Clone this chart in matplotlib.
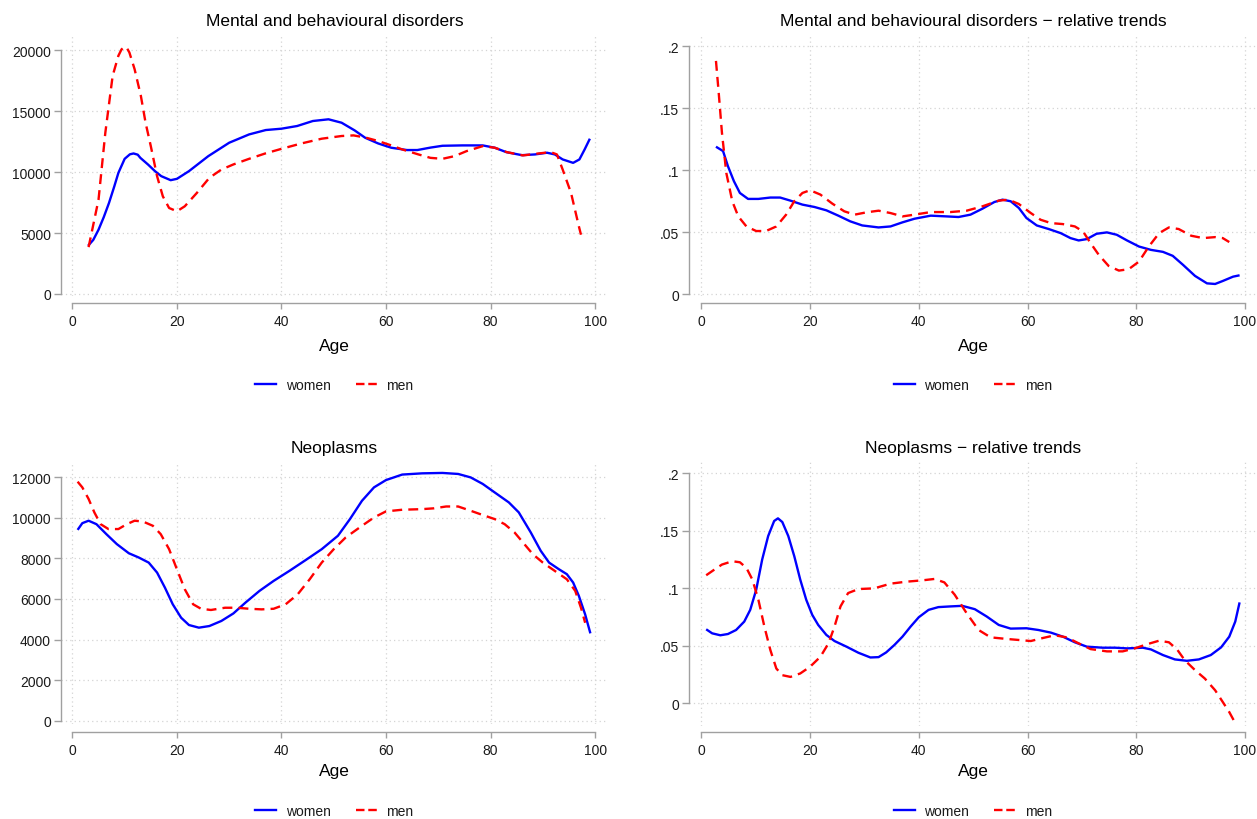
import matplotlib
matplotlib.use('Agg')
import matplotlib.pyplot as plt
from matplotlib.lines import Line2D

plt.rcParams['font.family'] = ['Liberation Sans', 'DejaVu Sans']

# ---------------- data ----------------
titles = ["Mental and behavioural disorders",
          "Mental and behavioural disorders \u2212 relative trends",
          "Neoplasms",
          "Neoplasms \u2212 relative trends"]
series_labels = ["women", "men"]
x_label = "Age"
x_ticks = [0, 20, 40, 60, 80, 100]

mb_y_ticks = [0, 5000, 10000, 15000, 20000]
mb_y_ticklabels = ["0", "5000", "10000", "15000", "20000"]
rel_y_ticks = [0, 0.05, 0.1, 0.15, 0.2]
rel_y_ticklabels = ["0", ".05", ".1", ".15", ".2"]
neo_y_ticks = [0, 2000, 4000, 6000, 8000, 10000, 12000]
neo_y_ticklabels = ["0", "2000", "4000", "6000", "8000", "10000", "12000"]

# Mental and behavioural disorders - counts
mb_women_age = [3, 4, 5, 6, 7, 8, 8.8, 10, 11, 11.7, 12.5, 13, 14.5, 15.8, 17, 18.8, 20, 22.3, 26,
                30, 33.8, 37, 40, 43, 46, 49, 51.5, 54, 56, 58.5, 61, 64, 66, 68.5, 70.8, 74.6,
                78.5, 80.8, 83, 86, 88.5, 90.8, 92.3, 93.8, 95.8, 97, 98, 99]
mb_women_val = [3950, 4440, 5270, 6300, 7460, 8800, 9930, 11080, 11450, 11520, 11420, 11160, 10600,
                10070, 9660, 9330, 9440, 10070, 11300, 12400, 13080, 13440, 13550, 13770, 14180,
                14320, 14040, 13410, 12810, 12340, 11990, 11800, 11800, 12000, 12150, 12180, 12180,
                11990, 11630, 11380, 11440, 11580, 11440, 11030, 10750, 11030, 11850, 12730]
mb_men_age = [3.1, 5.0, 6.3, 7.7, 8.8, 9.4, 10.0, 10.4, 10.9, 11.9, 13.1, 14.0, 15.0, 16.2, 17.3,
              18.5, 20.0, 21.5, 23.8, 26.2, 28.5, 30.8, 33.8, 36.9, 40, 43.8, 47.7, 51.5, 53.8,
              56.2, 58.5, 60.8, 63.1, 66.2, 68.5, 70.8, 73.1, 75.4, 78.5, 80.8, 83.1, 86.2, 89.2,
              91.5, 92.7, 93.8, 95.4, 96.9, 97.3]
mb_men_val = [3840, 7735, 13220, 17880, 19530, 20050, 20270, 20180, 19800, 18430, 16240, 14040,
              12120, 9660, 8010, 7050, 6780, 7190, 8280, 9520, 10200, 10620, 11080, 11520, 11900,
              12340, 12730, 12950, 13000, 12810, 12540, 12210, 11850, 11440, 11160, 11080, 11300,
              11710, 12120, 11990, 11630, 11360, 11520, 11630, 11440, 10200, 8280, 5540, 4860]

# Mental and behavioural disorders - relative trends
mbr_women_age = [2.7, 4.0, 4.9, 6.0, 7.1, 8.6, 10.5, 12.7, 14.5, 16.4, 18.6, 20.8, 23.0, 25.2, 27.4,
                 29.6, 32.6, 34.8, 37.0, 39.2, 42.2, 45.1, 47.3, 49.5, 51.7, 53.9, 55.4, 56.9, 58.4,
                 59.8, 61.7, 63.9, 66.1, 67.9, 69.4, 70.9, 72.7, 74.6, 76.4, 78.3, 80.5, 82.7, 84.9,
                 86.7, 88.6, 90.8, 93.0, 94.5, 95.9, 97.8, 99.0]
mbr_women_val = [0.1188, 0.1153, 0.1031, 0.0910, 0.0815, 0.0767, 0.0767, 0.0778, 0.0778, 0.0753,
                 0.0721, 0.0702, 0.0675, 0.0632, 0.0586, 0.0553, 0.0537, 0.0545, 0.0578, 0.0607,
                 0.0632, 0.0626, 0.0621, 0.0640, 0.0688, 0.0742, 0.0761, 0.0748, 0.0694, 0.0613,
                 0.0553, 0.0524, 0.0491, 0.0451, 0.0432, 0.0443, 0.0486, 0.0497, 0.0478, 0.0432,
                 0.0383, 0.0356, 0.0340, 0.0308, 0.0235, 0.0146, 0.0086, 0.0081, 0.0105, 0.0140,
                 0.0151]
mbr_men_age = [2.7, 3.2, 3.8, 4.6, 5.7, 6.8, 8.3, 10.1, 11.9, 13.8, 15.6, 17.1, 18.6, 20.0, 21.9,
               24.1, 26.3, 28.2, 30.4, 32.6, 34.8, 37.0, 39.2, 42.2, 45.8, 48.8, 51.7, 54.7, 56.5,
               58.4, 60.6, 62.4, 64.3, 66.5, 68.7, 70.2, 71.6, 73.1, 74.9, 76.8, 78.6, 80.5, 82.3,
               84.2, 86.0, 87.8, 90.1, 92.3, 94.5, 95.9, 97.1]
mbr_men_val = [0.188, 0.1625, 0.130, 0.0977, 0.0748, 0.0626, 0.0545, 0.0508, 0.0508, 0.0545, 0.0640,
               0.0748, 0.0815, 0.0837, 0.0802, 0.0729, 0.0667, 0.0640, 0.0659, 0.0672, 0.0653,
               0.0626, 0.0640, 0.0661, 0.0661, 0.0672, 0.0707, 0.0753, 0.0761, 0.0726, 0.0653,
               0.0599, 0.0572, 0.0564, 0.0545, 0.0505, 0.0410, 0.0316, 0.0227, 0.0189, 0.0200,
               0.0262, 0.0383, 0.0491, 0.0537, 0.0524, 0.0470, 0.0451, 0.0459, 0.0451, 0.0419]

# Neoplasms - counts
neo_women_age = [1.0, 1.9, 3.1, 4.6, 6.5, 8.5, 10.8, 12.7, 14.6, 16.2, 17.7, 19.2, 20.8, 22.3, 24.2,
                 26.2, 28.5, 30.8, 33.1, 35.8, 38.5, 41.5, 44.6, 47.7, 50.8, 53.1, 55.4, 57.7, 60.0,
                 63.1, 66.9, 70.8, 73.8, 76.2, 78.5, 80.8, 83.5, 85.4, 87.7, 89.6, 91.2, 93.1, 94.6,
                 95.8, 96.9, 98.1, 99.1]
neo_women_val = [9400, 9730, 9850, 9680, 9190, 8700, 8250, 8040, 7790, 7300, 6560, 5740, 5080, 4720,
                 4590, 4670, 4920, 5290, 5820, 6400, 6890, 7380, 7910, 8450, 9110, 9930, 10830,
                 11490, 11850, 12120, 12180, 12200, 12150, 11980, 11660, 11240, 10750, 10260, 9270,
                 8370, 7790, 7460, 7220, 6810, 6150, 5240, 4310]
neo_men_age = [1.0, 1.9, 3.1, 4.2, 5.4, 6.9, 8.8, 10.4, 11.9, 13.5, 15.4, 16.9, 18.5, 20.0, 21.5,
               23.1, 24.6, 26.5, 29.2, 31.5, 33.8, 36.2, 38.5, 40.8, 43.1, 45.4, 47.7, 50.0, 52.3,
               55.4, 57.7, 60.0, 63.1, 66.9, 69.2, 71.5, 73.8, 76.2, 78.5, 80.8, 82.7, 84.6, 86.2,
               88.1, 90.0, 92.3, 94.6, 96.2, 97.3, 98.1]
neo_men_val = [11770, 11490, 10920, 10260, 9680, 9440, 9440, 9680, 9850, 9810, 9600, 9190, 8450,
               7460, 6480, 5740, 5520, 5460, 5570, 5570, 5520, 5490, 5520, 5740, 6230, 6970, 7790,
               8450, 9030, 9600, 10010, 10310, 10390, 10420, 10460, 10550, 10550, 10340, 10130,
               9930, 9680, 9270, 8780, 8200, 7790, 7380, 6970, 6400, 5570, 4830]

# Neoplasms - relative trends
neor_women_age = [0.9, 2.0, 3.5, 4.9, 6.4, 7.9, 9.0, 10.1, 11.2, 12.3, 13.4, 14.1, 14.9, 16.0, 17.1,
                  18.2, 19.3, 20.4, 21.5, 23.0, 24.5, 26.7, 28.9, 31.1, 32.6, 34.0, 35.5, 37.0,
                  38.5, 40.0, 41.8, 43.6, 45.8, 48.0, 50.3, 52.5, 54.7, 56.9, 59.8, 62.0, 64.3,
                  66.5, 68.7, 70.9, 73.8, 76.1, 78.3, 81.2, 82.7, 84.9, 87.1, 89.3, 91.5, 93.7,
                  95.6, 97.1, 98.2, 99.0]
neor_women_val = [0.0641, 0.0606, 0.0589, 0.0600, 0.0635, 0.0708, 0.0810, 0.0985, 0.1248, 0.1452,
                  0.1583, 0.1606, 0.1574, 0.1452, 0.1277, 0.1073, 0.0898, 0.0767, 0.0679, 0.0592,
                  0.0539, 0.0490, 0.0437, 0.0396, 0.0399, 0.0440, 0.0504, 0.0577, 0.0665, 0.0746,
                  0.0810, 0.0834, 0.0840, 0.0845, 0.0816, 0.0752, 0.0679, 0.0647, 0.0650, 0.0635,
                  0.0612, 0.0577, 0.0528, 0.0490, 0.0481, 0.0481, 0.0475, 0.0481, 0.0466, 0.0417,
                  0.0379, 0.0367, 0.0379, 0.0417, 0.0484, 0.0577, 0.0708, 0.0875]
neor_men_age = [0.9, 2.4, 3.8, 5.7, 7.1, 8.3, 9.4, 10.5, 11.6, 12.7, 13.8, 14.9, 16.4, 18.2, 20.0,
                21.9, 23.4, 24.5, 25.6, 27.0, 28.9, 31.8, 34.8, 37.7, 40.7, 42.9, 44.7, 46.6, 48.8,
                51.0, 53.2, 56.2, 58.4, 60.6, 62.8, 65.0, 67.2, 69.4, 71.6, 74.6, 77.5, 79.7, 81.9,
                84.2, 86.0, 87.5, 88.9, 90.8, 92.6, 94.5, 95.9, 97.1, 98.0]
neor_men_val = [0.1111, 0.1160, 0.1204, 0.1233, 0.1224, 0.1175, 0.1073, 0.0898, 0.0665, 0.0461,
                0.0300, 0.0242, 0.0227, 0.0257, 0.0315, 0.0402, 0.0519, 0.0665, 0.0840, 0.0956,
                0.0991, 0.0997, 0.1038, 0.1055, 0.1067, 0.1079, 0.1049, 0.0942, 0.0781, 0.0635,
                0.0571, 0.0557, 0.0548, 0.0539, 0.0565, 0.0589, 0.0571, 0.0519, 0.0469, 0.0449,
                0.0449, 0.0475, 0.0510, 0.0542, 0.0528, 0.0466, 0.0373, 0.0286, 0.0213, 0.0111,
                0.0009, -0.0079, -0.0157]

# ---------------- layout ----------------
W, H = 1257, 820
fig = plt.figure(figsize=(W / 100, H / 100), dpi=100)

def rect(l, r, t, b):
    return [l / W, 1 - b / H, (r - l) / W, (b - t) / H]

BLUE = '#0000ff'
RED = '#ff0000'
AXC = '#a0a0a0'
GRIDC = '#d4d4d4'
TXT = '#1a1a1a'

panels = [
    dict(rect=rect(61, 608, 36, 297), xlim=(-2.18, 102.47), ylim=(-164, 21230),
         yt=mb_y_ticks, ytl=mb_y_ticklabels, off=7, title=titles[0],
         w=(mb_women_age, mb_women_val), m=(mb_men_age, mb_men_val),
         title_y=21, age_y=347, leg_y=386),
    dict(rect=rect(689, 1257, 36, 297), xlim=(-2.26, 102.2), ylim=(-0.0016, 0.2089),
         yt=rel_y_ticks, ytl=rel_y_ticklabels, off=7, title=titles[1],
         w=(mbr_women_age, mbr_women_val), m=(mbr_men_age, mbr_men_val),
         title_y=21, age_y=347, leg_y=386),
    dict(rect=rect(61, 608, 463, 725), xlim=(-2.18, 102.47), ylim=(-148, 12738),
         yt=neo_y_ticks, ytl=neo_y_ticklabels, off=8, title=titles[2],
         w=(neo_women_age, neo_women_val), m=(neo_men_age, neo_men_val),
         title_y=449, age_y=772, leg_y=812),
    dict(rect=rect(689, 1257, 463, 727), xlim=(-2.26, 102.2), ylim=(-0.0200, 0.2096),
         yt=rel_y_ticks, ytl=rel_y_ticklabels, off=6, title=titles[3],
         w=(neor_women_age, neor_women_val), m=(neor_men_age, neor_men_val),
         title_y=449, age_y=772, leg_y=812),
]

for p in panels:
    ax = fig.add_axes(p['rect'])
    ax.set_xlim(*p['xlim'])
    ax.set_ylim(*p['ylim'])
    ax.set_xticks(x_ticks)
    ax.set_xticklabels([str(t) for t in x_ticks])
    ax.set_yticks(p['yt'])
    ax.set_yticklabels(p['ytl'])
    ax.grid(True, color=GRIDC, linestyle=(0, (1, 2.5)), linewidth=0.9)
    ax.set_axisbelow(True)
    for s in ('top', 'right'):
        ax.spines[s].set_visible(False)
    ax.spines['left'].set_color(AXC)
    ax.spines['bottom'].set_color(AXC)
    ax.spines['left'].set_linewidth(1.0)
    ax.spines['bottom'].set_linewidth(1.0)
    ax.spines['bottom'].set_position(('outward', p['off'] * 0.72))
    ax.spines['left'].set_bounds(p['yt'][0], p['yt'][-1])
    ax.spines['bottom'].set_bounds(x_ticks[0], x_ticks[-1])
    ax.tick_params(axis='y', length=5, width=1.0, color=AXC, pad=2.2,
                   labelsize=10, labelcolor=TXT)
    ax.tick_params(axis='x', length=4.3, width=1.0, color=AXC, pad=3.5,
                   labelsize=10, labelcolor=TXT)

    ax.plot(p['w'][0], p['w'][1], color=BLUE, lw=1.7, solid_capstyle='butt',
            solid_joinstyle='round', zorder=3)
    ax.plot(p['m'][0], p['m'][1], color=RED, lw=1.7, dashes=(4.2, 2.6), zorder=4)

    pos = ax.get_position()
    cx = pos.x0 + pos.width / 2
    fig.text(cx, 1 - p['title_y'] / H, p['title'], ha='center', va='center',
             fontsize=12.5, color='black')
    fig.text(cx, 1 - p['age_y'] / H, x_label, ha='center', va='center',
             fontsize=12.5, color='black')
    handles = [Line2D([], [], color=BLUE, lw=1.7),
               Line2D([], [], color=RED, lw=1.7, dashes=(3.6, 1.6))]
    ax.legend(handles, series_labels, loc='center', ncol=2, frameon=False,
              bbox_to_anchor=(cx, 1 - p['leg_y'] / H), bbox_transform=fig.transFigure,
              fontsize=10, handlelength=1.5, handletextpad=0.7, columnspacing=1.8,
              labelcolor=TXT)

fig.savefig('out.png', dpi=100, facecolor='white')
